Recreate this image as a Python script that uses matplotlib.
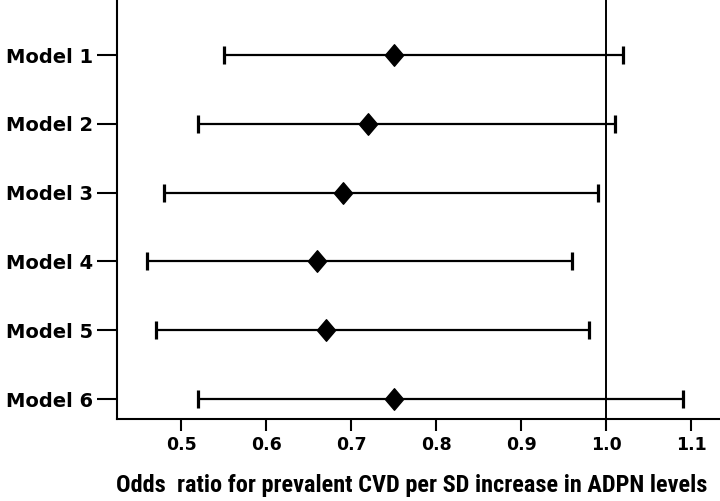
import matplotlib
matplotlib.use("Agg")
import matplotlib.pyplot as plt
from matplotlib.path import Path
from matplotlib import font_manager
import numpy as np

models = ["Model 1", "Model 2", "Model 3", "Model 4", "Model 5", "Model 6"]
odds_ratio = [0.75, 0.72, 0.69, 0.66, 0.67, 0.75]
ci_lower = [0.55, 0.52, 0.48, 0.46, 0.47, 0.52]
ci_upper = [1.02, 1.01, 0.99, 0.96, 0.98, 1.09]
xticks = [0.5, 0.6, 0.7, 0.8, 0.9, 1.0, 1.1]
xtick_labels = ["0.5", "0.6", "0.7", "0.8", "0.9", "1.0", "1.1"]
xlabel = "Odds  ratio for prevalent CVD per SD increase in ADPN levels"

installed = {f.name for f in font_manager.fontManager.ttflist}
label_font = "DejaVu Sans"
for cand in ["Liberation Sans Narrow", "Roboto Condensed", "Open Sans Condensed",
             "Roboto", "Liberation Sans"]:
    if cand in installed:
        label_font = cand
        break

fig = plt.figure(figsize=(7.2, 5.01), dpi=100)
ax = fig.add_axes([117 / 720, 1 - 419 / 501, 1 - 117 / 720, 419 / 501])

ypos = np.arange(1, len(models) + 1)
orr = np.array(odds_ratio)
lo = orr - np.array(ci_lower)
hi = np.array(ci_upper) - orr

diamond = Path([(0, 1), (0.85, 0), (0, -1), (-0.85, 0), (0, 1)],
               [Path.MOVETO, Path.LINETO, Path.LINETO, Path.LINETO, Path.CLOSEPOLY])

ax.axvline(1.0, color="black", lw=1.4, zorder=1)
ax.errorbar(orr, ypos, xerr=[lo, hi], fmt="none", ecolor="black",
            elinewidth=1.6, capsize=6.2, capthick=2.3, zorder=2)
ax.plot(orr, ypos, linestyle="none", marker=diamond, markersize=15.5,
        color="black", zorder=3)

ax.set_xlim(0.4247, 1.134)
ax.set_ylim(6.29, 0.198)
ax.set_yticks(ypos)
ax.set_yticklabels(models, fontfamily="DejaVu Sans", fontweight="bold", fontsize=14)
ax.set_xticks(xticks)
ax.set_xticklabels(xtick_labels, fontfamily="DejaVu Sans", fontweight="bold", fontsize=12.5)

ax.tick_params(axis="y", length=14.4, width=1.5, pad=3, direction="out")
ax.tick_params(axis="x", length=8.6, width=1.5, pad=3.5, direction="out")

for s in ["top", "right"]:
    ax.spines[s].set_visible(False)
for s in ["left", "bottom"]:
    ax.spines[s].set_linewidth(1.5)

lab = ax.set_xlabel(xlabel, fontfamily=label_font, fontweight="bold", fontsize=15.5)
ax.xaxis.set_label_coords(0.489, -73 / 419)
lab.set_verticalalignment("baseline")

# fit the label width to the reference span (~591 px)
renderer = fig.canvas.get_renderer()
w = lab.get_window_extent(renderer).width
lab.set_fontsize(15.5 * 591 / w)

fig.savefig("out.png", dpi=100)
